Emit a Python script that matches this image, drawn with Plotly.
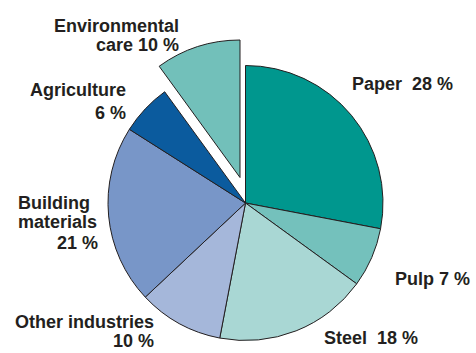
import plotly.graph_objects as go

W, H = 476, 353

# Sector shares (percent), listed clockwise from 12 o'clock
sectors = ["Paper", "Pulp", "Steel", "Other industries",
           "Building materials", "Agriculture", "Environmental care"]
shares = [28, 7, 18, 10, 21, 6, 10]
colors = ["#00978e", "#74c1bc", "#a9d7d4", "#a5b7da",
          "#7896c8", "#0b5b9e", "#72c0ba"]

# Label wording per sector; "{v}" is filled with the share
label_templates = [
    "Paper  {v} %",
    "Pulp {v} %",
    "Steel  {v} %",
    "Other industries<br>{v} %",
    "Building<br>materials<br>{v} %",
    "Agriculture<br>{v} %",
    "Environmental<br>care {v} %",
]

# The sector drawn detached from the pie
pulled = "Environmental care"

# Geometry in pixels (from top-left)
R = 137.5
main_c = (245.5, 203.0)
pull_offset = (-5.5, -25.5)

# Per-line label placement: (x px, y px of line centre, anchor)
label_pos = [
    [(350, 83.5, "left")],
    [(393, 278.5, "left")],
    [(322, 337.5, "left")],
    [(156, 321.5, "right"), (156, 341.0, "right")],
    [(16, 202.5, "left"), (16, 221.5, "left"), (100, 242.5, "right")],
    [(128, 90.0, "right"), (128, 112.5, "right")],
    [(181, 25.5, "right"), (181, 44.5, "right")],
]


def domain_for(cx, cy):
    return dict(
        x=[(cx - R) / W, (cx + R) / W],
        y=[(H - cy - R) / H, (H - cy + R) / H],
    )


outline = "#231f20"
clear = "rgba(0,0,0,0)"
is_pulled = [s == pulled for s in sectors]

fig = go.Figure()

# Pie body, leaving the detached sector empty
fig.add_trace(go.Pie(
    labels=sectors, values=shares, sort=False, direction="clockwise",
    rotation=0, textinfo="none", showlegend=False,
    domain=domain_for(*main_c),
    marker=dict(
        colors=[clear if p else c for c, p in zip(colors, is_pulled)],
        line=dict(color=outline, width=[0 if p else 1 for p in is_pulled]),
    ),
    hovertemplate="%{label}: %{value} %<extra></extra>",
))

# Detached sector, same pie shifted outward
fig.add_trace(go.Pie(
    labels=sectors, values=shares, sort=False, direction="clockwise",
    rotation=0, textinfo="none", showlegend=False,
    domain=domain_for(main_c[0] + pull_offset[0], main_c[1] + pull_offset[1]),
    marker=dict(
        colors=[c if p else clear for c, p in zip(colors, is_pulled)],
        line=dict(color=outline, width=[1 if p else 0 for p in is_pulled]),
    ),
    hovertemplate="%{label}: %{value} %<extra></extra>",
))

annotations = []
for tpl, v, positions in zip(label_templates, shares, label_pos):
    lines = tpl.format(v=v).split("<br>")
    for text, (x, y, anchor) in zip(lines, positions):
        annotations.append(dict(
            text=text, x=x / W, y=1 - y / H, xref="paper", yref="paper",
            xanchor=anchor, yanchor="middle", showarrow=False,
            font=dict(family="Liberation Sans, Arial, sans-serif",
                      size=18, weight="bold", color="#231f20"),
        ))

fig.update_layout(
    width=W, height=H,
    margin=dict(l=0, r=0, t=0, b=0),
    paper_bgcolor="white", plot_bgcolor="white",
    annotations=annotations,
)

fig.write_html("out.html")
